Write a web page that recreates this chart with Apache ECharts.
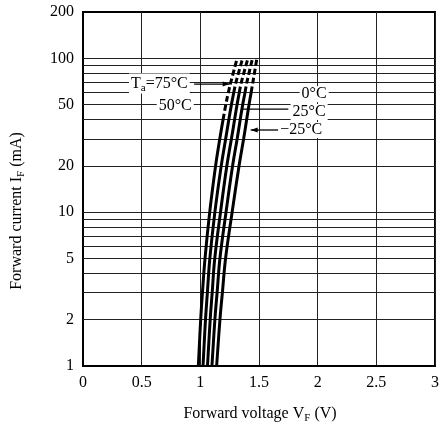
<!DOCTYPE html>
<html>
<head>
<meta charset="utf-8">
<script src="https://cdn.jsdelivr.net/npm/echarts@6/dist/echarts.min.js"></script>
<style>
html,body{margin:0;padding:0;background:#fff;}
#chart{width:442px;height:427px;}
</style>
</head>
<body>
<div id="chart"></div>
<script>
// ---- data ----
const currents = [1, 2, 3, 5, 10, 20, 30, 40, 50, 60, 70, 100];           // IF (mA)
const vf75  = [0.983, 1.003, 1.018, 1.040, 1.080, 1.130, 1.166, 1.194, 1.217, 1.239, 1.260, 1.314];
const vf50  = [1.023, 1.044, 1.060, 1.081, 1.124, 1.178, 1.216, 1.243, 1.265, 1.285, 1.304, 1.361];
const vf25  = [1.061, 1.084, 1.101, 1.123, 1.172, 1.226, 1.265, 1.292, 1.313, 1.332, 1.350, 1.406];
const vf0   = [1.099, 1.124, 1.143, 1.167, 1.219, 1.275, 1.314, 1.340, 1.361, 1.381, 1.397, 1.445];
const vfm25 = [1.139, 1.167, 1.188, 1.215, 1.271, 1.330, 1.369, 1.395, 1.415, 1.433, 1.448, 1.482];
const curveNames = ['75°C', '50°C', '25°C', '0°C', '−25°C'];
const dashFrom = [40, 60, 60, 60, 60];   // current above which the curve is dashed
const yTickLabels = [1, 2, 5, 10, 20, 50, 100, 200];
const yGridValues = [2, 3, 4, 5, 6, 7, 8, 9, 10, 20, 30, 40, 50, 60, 70, 80, 90, 100];

// annotation labels: text, voltage, current
const labelTexts = ['{t|T}{s|a}{t|=75°C}', '{t|50°C}', '{t|0°C}', '{t|25°C}', '{t|−25°C}'];
const labelV = [0.651, 0.786, 1.970, 1.927, 1.860];
const labelI = [68.6, 48.9, 58.5, 44.7, 34.2];
// leader lines: [v1, v2, current, arrow ('right'|'left'|'')]
const leaderV1 = [0.947, 1.352, 1.429];
const leaderV2 = [1.250, 1.750, 1.665];
const leaderI  = [68.0, 46.8, 34.2];
const leaderArrow = ['right', '', 'left'];

const FONT = '"Liberation Serif", "DejaVu Serif", "Times New Roman", serif';
const curves = [vf75, vf50, vf25, vf0, vfm25];

const series = [];
curves.forEach((vals, k) => {
  const solid = [], dashed = [];
  currents.forEach((c, i) => {
    if (c <= dashFrom[k]) solid.push([vals[i], c]);
    if (c >= dashFrom[k]) dashed.push([vals[i], c]);
  });
  series.push({
    name: curveNames[k], type: 'line', data: solid, showSymbol: false, symbol: 'none',
    smooth: 0.4, lineStyle: { color: '#000', width: 3, type: 'solid' }, z: 5, silent: true
  });
  series.push({
    name: curveNames[k] + ' dashed', type: 'line', data: dashed, showSymbol: false, symbol: 'none',
    smooth: 0.4, lineStyle: { color: '#000', width: 3, type: [6, 3] }, z: 5, silent: true
  });
});
// horizontal grid lines for the log axis
series.push({
  type: 'line', data: [], silent: true,
  markLine: {
    silent: true, symbol: ['none', 'none'], animation: false,
    label: { show: false },
    lineStyle: { color: '#222', width: 1, type: 'solid' },
    data: yGridValues.map(v => ({ yAxis: v }))
  }
});

const chart = echarts.init(document.getElementById('chart'), null, { renderer: 'canvas' });
chart.setOption({
  animation: false,
  backgroundColor: '#fff',
  grid: { left: 83, right: 4, top: 12, bottom: 61, show: true, borderColor: '#000', borderWidth: 2, containLabel: false },
  xAxis: {
    type: 'value', min: 0, max: 3, interval: 0.5,
    axisLine: { show: true, lineStyle: { color: '#000', width: 2 } },
    axisTick: { show: false },
    axisLabel: { color: '#000', fontSize: 16, fontFamily: FONT, margin: 9 },
    splitLine: { show: true, lineStyle: { color: '#222', width: 1 } }
  },
  yAxis: {
    type: 'log', logBase: 10, min: 1, max: 200,
    axisLine: { show: true, lineStyle: { color: '#000', width: 2 } },
    axisTick: { show: false },
    axisLabel: { color: '#000', fontSize: 16, fontFamily: FONT, margin: 9, customValues: yTickLabels, showMaxLabel: true, showMinLabel: true },
    splitLine: { show: false },
    minorSplitLine: { show: false }
  },
  series: series
});

function px(v, i) { return chart.convertToPixel({ gridIndex: 0 }, [v, i]); }

const rich = {
  t: { fontSize: 16, fontFamily: FONT, color: '#000' },
  s: { fontSize: 11, fontFamily: FONT, color: '#000', padding: [9, 0, 0, 0] }
};
const graphics = [];
labelTexts.forEach((t, k) => {
  const p = px(labelV[k], labelI[k]);
  graphics.push({
    type: 'text', x: p[0], y: p[1], z: 50,
    style: {
      text: t, rich: rich, align: 'center', verticalAlign: 'middle',
      backgroundColor: '#fff', padding: [0, 2, 0, 2], fill: '#000', fontSize: 16, fontFamily: FONT
    }
  });
});
leaderV1.forEach((v1, k) => {
  const a = px(v1, leaderI[k]), b = px(leaderV2[k], leaderI[k]);
  graphics.push({
    type: 'line', z: 40, shape: { x1: a[0], y1: a[1], x2: b[0], y2: b[1] },
    style: { stroke: '#000', lineWidth: 1.3 }
  });
  if (leaderArrow[k] === 'right') {
    graphics.push({ type: 'polygon', z: 41, shape: { points: [[b[0], b[1]], [b[0] - 7, b[1] - 2.5], [b[0] - 7, b[1] + 2.5]] }, style: { fill: '#000' } });
  } else if (leaderArrow[k] === 'left') {
    graphics.push({ type: 'polygon', z: 41, shape: { points: [[a[0], a[1]], [a[0] + 7, a[1] - 2.5], [a[0] + 7, a[1] + 2.5]] }, style: { fill: '#000' } });
  }
});
// axis titles
graphics.push({
  type: 'text', x: 260, y: 414, z: 50,
  style: { text: '{t|Forward voltage V}{s|F}{t| (V)}', rich: rich, align: 'center', verticalAlign: 'middle', fill: '#000' }
});
graphics.push({
  type: 'text', x: 17, y: 211, rotation: Math.PI / 2, z: 50,
  style: { text: '{t|Forward current I}{s|F}{t| (mA)}', rich: rich, align: 'center', verticalAlign: 'middle', fill: '#000' }
});
chart.setOption({ graphic: graphics });
</script>
</body>
</html>
